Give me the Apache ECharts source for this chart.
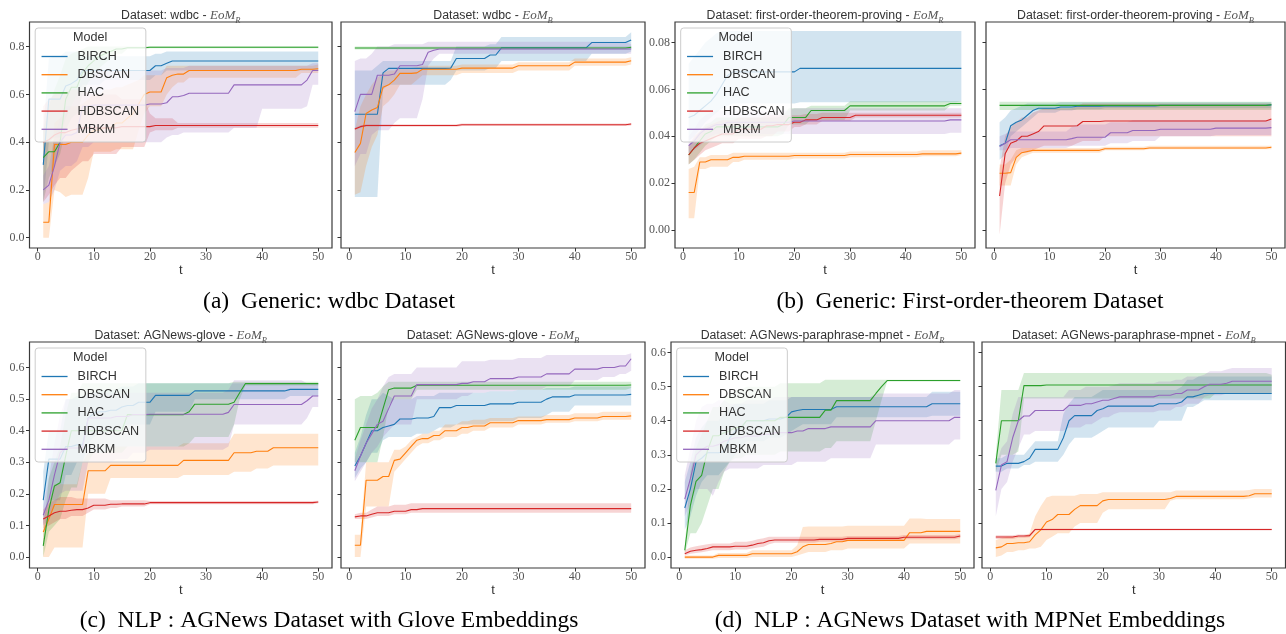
<!DOCTYPE html>
<html>
<head>
<meta charset="utf-8">
<title>EoM curves</title>
<script src="https://cdn.jsdelivr.net/npm/echarts@6/dist/echarts.min.js"></script>
<style>
  html, body { margin: 0; background: #fff; }
  #chart { width: 1286px; height: 634px; }
</style>
</head>
<body>
<div id="chart"></div>
<script>
var models = ['BIRCH', 'DBSCAN', 'HAC', 'HDBSCAN', 'MBKM'];
var steps = [1, 50];
var xTicks = [0, 10, 20, 30, 40, 50];

// keyframes: [t, mean, lower, upper]; a value holds until the next listed t
// --- wdbc, EoM_R
var wdbc_R_BIRCH = [[1,.305,.15,.45],[2,.58,.40,.75],[3,.58,.42,.76],[5,.635,.50,.78],[6,.645,.55,.78],[7,.66,.60,.78],[8,.70,.64,.76],[12,.70,.66,.76],[21,.72,.68,.77],[23,.73,.70,.78],[24,.74,.70,.78]];
var wdbc_R_DBSCAN = [[1,.065,0,.14],[2,.065,0,.15],[3,.39,.20,.48],[4,.39,.19,.50],[5,.39,.17,.52],[6,.40,.18,.55],[8,.40,.18,.56],[9,.43,.25,.58],[10,.45,.36,.60],[12,.46,.36,.62],[14,.48,.37,.63],[16,.50,.37,.64],[17,.52,.37,.65],[18,.56,.45,.66],[19,.60,.52,.68],[20,.61,.55,.68],[23,.67,.60,.72],[24,.68,.63,.72],[25,.685,.65,.72],[27,.70,.67,.72],[47,.705,.69,.72],[50,.707,.69,.725]];
var wdbc_R_HAC = [[1,.335,.15,.45],[2,.36,.25,.55],[3,.36,.30,.62],[4,.40,.35,.68],[5,.58,.45,.75],[6,.63,.50,.77],[7,.63,.52,.78],[8,.69,.60,.79],[9,.72,.65,.80],[10,.74,.68,.80],[11,.76,.71,.80],[12,.77,.73,.80],[13,.78,.75,.80],[14,.79,.77,.80],[16,.795,.79,.80],[20,.797,.793,.801]];
var wdbc_R_HDBSCAN = [[1,.40,.15,.55],[2,.41,.18,.58],[3,.43,.22,.60],[4,.44,.25,.61],[6,.45,.28,.62],[7,.455,.30,.62],[8,.46,.32,.61],[10,.46,.35,.60],[15,.465,.38,.58],[20,.465,.44,.52],[21,.47,.45,.50],[25,.47,.46,.48]];
var wdbc_R_MBKM = [[1,.20,.14,.26],[2,.22,.15,.30],[3,.30,.20,.42],[4,.40,.28,.50],[5,.43,.30,.55],[7,.44,.32,.60],[8,.55,.38,.68],[10,.555,.40,.70],[20,.56,.40,.70],[23,.565,.42,.71],[24,.59,.43,.71],[26,.595,.44,.71],[27,.605,.44,.72],[35,.64,.46,.72],[40,.64,.54,.72],[48,.66,.55,.72],[49,.70,.64,.73]];
// --- wdbc, EoM_B
var wdbc_B_BIRCH = [[1,.517,.17,.70],[5,.517,.17,.72],[6,.69,.62,.74],[7,.709,.64,.74],[18,.71,.66,.74],[19,.75,.70,.80],[25,.765,.71,.81],[27,.795,.74,.84],[43,.817,.77,.84],[50,.828,.78,.86]];
var wdbc_B_DBSCAN = [[1,.357,.18,.45],[2,.395,.19,.55],[3,.52,.30,.60],[4,.535,.38,.64],[5,.545,.43,.67],[6,.63,.55,.69],[7,.64,.57,.70],[8,.66,.60,.70],[9,.688,.64,.71],[12,.69,.66,.715],[13,.705,.68,.72],[20,.71,.69,.725],[30,.72,.70,.735],[40,.735,.72,.75],[50,.741,.725,.755]];
var wdbc_B_HAC = [[1,.794,.788,.80],[50,.797,.79,.80]];
var wdbc_B_HDBSCAN = [[1,.455,.45,.46],[2,.465,.46,.47],[3,.47,.465,.475],[20,.473,.468,.478],[50,.476,.47,.48]];
var wdbc_B_MBKM = [[1,.528,.30,.74],[2,.60,.35,.75],[4,.60,.43,.77],[5,.68,.45,.80],[8,.685,.48,.81],[9,.72,.50,.81],[13,.725,.58,.81],[14,.776,.72,.82],[15,.785,.75,.82],[16,.79,.77,.82],[50,.79,.77,.81]];
// --- first-order-theorem-proving, EoM_R
var fotp_R_BIRCH = [[1,.048,.038,.071],[2,.049,.040,.074],[3,.051,.043,.077],[4,.053,.046,.080],[5,.055,.048,.082],[6,.058,.050,.084],[7,.062,.052,.085],[8,.066,.053,.085],[9,.0675,.054,.085],[21,.069,.0545,.085],[50,.069,.055,.085]];
var fotp_R_DBSCAN = [[1,.016,.005,.026],[2,.016,.005,.027],[3,.029,.026,.031],[5,.030,.027,.032],[9,.031,.029,.033],[11,.0315,.030,.033],[20,.0318,.0305,.033],[30,.0322,.031,.0335],[43,.0325,.0315,.034],[50,.0328,.032,.034]];
var fotp_R_HAC = [[1,.032,.028,.036],[2,.035,.030,.039],[3,.038,.033,.042],[4,.041,.036,.045],[5,.042,.038,.046],[6,.044,.040,.048],[18,.045,.041,.049],[19,.048,.045,.052],[23,.051,.047,.053],[30,.053,.051,.055],[48,.054,.053,.055]];
var fotp_R_HDBSCAN = [[1,.032,.028,.036],[2,.035,.030,.040],[3,.037,.032,.042],[4,.038,.034,.044],[5,.039,.035,.045],[6,.040,.036,.046],[7,.041,.037,.047],[10,.043,.039,.048],[15,.0445,.040,.049],[17,.045,.042,.049],[20,.046,.044,.049],[22,.047,.045,.0495],[25,.048,.0465,.050],[31,.049,.048,.050]];
var fotp_R_MBKM = [[1,.036,.033,.040],[2,.038,.034,.043],[3,.041,.036,.047],[4,.043,.038,.049],[5,.044,.040,.050],[6,.045,.041,.051],[8,.046,.041,.051],[20,.0465,.041,.052],[48,.047,.0415,.052]];
// --- first-order-theorem-proving, EoM_B
var fotp_B_BIRCH = [[1,.036,.030,.046],[2,.037,.032,.048],[3,.0445,.040,.051],[4,.046,.042,.052],[5,.047,.044,.053],[6,.049,.046,.054],[7,.051,.048,.054],[8,.052,.050,.054],[12,.0525,.051,.0545],[15,.0528,.0515,.0545],[20,.053,.052,.0545],[30,.0532,.052,.0545],[50,.0534,.052,.0545]];
var fotp_B_DBSCAN = [[1,.0242,.019,.028],[3,.0245,.019,.030],[4,.031,.028,.034],[5,.033,.031,.035],[6,.0335,.032,.035],[7,.034,.033,.035],[20,.0347,.034,.0355],[28,.035,.0345,.036],[50,.0353,.0345,.036]];
var fotp_B_HAC = [[1,.0532,.0512,.0548],[50,.0535,.0512,.0548]];
var fotp_B_HDBSCAN = [[1,.0145,-.002,.026],[2,.0325,.020,.040],[3,.037,.028,.044],[4,.038,.031,.046],[5,.040,.033,.048],[7,.041,.034,.050],[8,.042,.035,.051],[9,.0444,.036,.052],[15,.0445,.037,.053],[16,.0463,.038,.054],[20,.0465,.040,.054],[50,.0474,.040,.054]];
var fotp_B_MBKM = [[1,.0356,.034,.040],[2,.037,.034,.041],[3,.0385,.035,.042],[14,.039,.036,.044],[15,.0396,.036,.045],[21,.0415,.037,.046],[25,.0425,.038,.047],[30,.043,.040,.047],[40,.0435,.0405,.047],[50,.0437,.0405,.047]];
// --- AGNews-glove, EoM_R
var glove_R_BIRCH = [[1,.18,.10,.27],[2,.31,.18,.40],[5,.35,.26,.50],[7,.355,.30,.51],[9,.44,.36,.52],[10,.455,.38,.52],[11,.46,.39,.53],[13,.465,.40,.53],[15,.475,.41,.54],[16,.48,.42,.54],[18,.49,.42,.55],[21,.512,.46,.55],[28,.526,.50,.55],[45,.531,.51,.55]];
var glove_R_DBSCAN = [[1,.079,0,.12],[2,.12,0,.17],[3,.166,.03,.23],[8,.166,.03,.30],[9,.273,.20,.33],[13,.29,.25,.35],[26,.306,.26,.36],[35,.33,.27,.39],[39,.335,.28,.39],[42,.346,.29,.39]];
var glove_R_HAC = [[1,.035,0,.07],[2,.15,.08,.25],[3,.225,.10,.30],[4,.235,.12,.35],[5,.32,.18,.45],[6,.40,.22,.52],[8,.40,.30,.55],[10,.40,.33,.55],[16,.451,.35,.55],[27,.46,.36,.55],[28,.484,.38,.55],[35,.49,.42,.555],[36,.52,.50,.555],[37,.549,.543,.555]];
var glove_R_HDBSCAN = [[1,.12,.09,.15],[2,.13,.10,.17],[3,.14,.11,.18],[4,.145,.12,.19],[6,.148,.13,.19],[7,.15,.13,.185],[9,.155,.14,.185],[10,.164,.15,.185],[13,.167,.155,.18],[15,.168,.16,.18],[20,.172,.167,.177],[50,.174,.170,.178]];
var glove_R_MBKM = [[1,.132,.10,.16],[2,.18,.12,.25],[3,.26,.16,.36],[4,.33,.20,.45],[5,.345,.21,.50],[9,.44,.30,.52],[14,.445,.31,.52],[17,.451,.33,.52],[20,.452,.34,.52],[34,.458,.35,.53],[35,.483,.42,.56],[48,.495,.44,.55],[49,.51,.475,.55]];
// --- AGNews-glove, EoM_B
var glove_B_BIRCH = [[1,.288,.25,.33],[2,.32,.28,.38],[3,.36,.30,.45],[4,.40,.33,.50],[6,.41,.37,.52],[7,.415,.38,.51],[8,.42,.38,.50],[9,.437,.38,.50],[12,.44,.39,.51],[15,.445,.40,.51],[16,.473,.41,.52],[19,.48,.42,.52],[25,.485,.43,.525],[30,.49,.44,.53],[35,.50,.45,.535],[36,.507,.46,.535],[40,.513,.48,.54],[50,.515,.48,.54]];
var glove_B_DBSCAN = [[1,.037,0,.07],[3,.243,.16,.30],[6,.255,.16,.30],[8,.306,.27,.34],[9,.31,.29,.34],[10,.33,.31,.35],[11,.35,.33,.37],[12,.37,.35,.38],[13,.375,.36,.39],[15,.385,.37,.40],[17,.40,.38,.42],[20,.41,.39,.43],[22,.415,.40,.435],[25,.425,.41,.44],[30,.432,.42,.445],[35,.435,.425,.45],[40,.44,.43,.455],[45,.445,.435,.46],[50,.447,.435,.46]];
var glove_B_HAC = [[1,.37,.30,.50],[2,.41,.30,.51],[5,.41,.30,.52],[6,.47,.38,.54],[7,.53,.48,.555],[8,.535,.50,.555],[12,.544,.53,.555],[50,.545,.535,.555]];
var glove_B_HDBSCAN = [[1,.127,.12,.135],[2,.13,.12,.14],[4,.135,.125,.15],[5,.14,.13,.16],[8,.145,.135,.165],[11,.15,.14,.17],[13,.153,.14,.17],[50,.153,.14,.17]];
var glove_B_MBKM = [[1,.273,.24,.31],[2,.32,.27,.37],[3,.36,.30,.42],[4,.39,.33,.47],[5,.42,.35,.50],[6,.43,.38,.54],[7,.47,.40,.57],[8,.51,.42,.58],[12,.546,.50,.60],[20,.55,.51,.62],[22,.555,.52,.62],[25,.565,.525,.625],[30,.57,.53,.63],[35,.58,.54,.64],[40,.595,.56,.64],[45,.60,.57,.64],[48,.605,.58,.64],[50,.628,.59,.645]];
// --- AGNews-paraphrase-mpnet, EoM_R
var mpnet_R_BIRCH = [[1,.144,.08,.22],[2,.20,.12,.28],[3,.279,.18,.35],[4,.29,.22,.38],[5,.306,.24,.40],[8,.31,.26,.42],[9,.35,.28,.44],[10,.37,.30,.45],[11,.38,.32,.45],[12,.40,.34,.45],[16,.405,.35,.46],[19,.41,.36,.46],[20,.426,.37,.47],[21,.43,.38,.47],[22,.433,.39,.47],[28,.441,.41,.47],[45,.45,.415,.485]];
var mpnet_R_DBSCAN = [[1,0,-.005,.005],[7,.005,-.003,.012],[13,.01,0,.02],[21,.0157,.005,.035],[22,.03,.01,.088],[23,.037,.015,.09],[27,.04,.02,.09],[28,.045,.02,.09],[30,.049,.025,.092],[41,.0716,.04,.113],[44,.0755,.04,.112]];
var mpnet_R_HAC = [[1,.02,.01,.03],[2,.152,.07,.25],[3,.222,.07,.32],[4,.24,.10,.36],[5,.31,.15,.40],[6,.356,.20,.44],[8,.365,.25,.46],[9,.37,.28,.48],[10,.38,.29,.49],[12,.40,.30,.50],[18,.41,.31,.51],[26,.431,.32,.52],[28,.459,.34,.52],[35,.48,.40,.52],[36,.50,.46,.52],[37,.518,.515,.52]];
var mpnet_R_HDBSCAN = [[1,.01,.005,.02],[2,.017,.01,.028],[3,.02,.012,.032],[4,.022,.014,.035],[5,.025,.017,.038],[6,.03,.02,.04],[10,.032,.022,.045],[13,.035,.025,.048],[14,.04,.028,.052],[15,.042,.03,.055],[16,.048,.038,.06],[17,.05,.042,.06],[25,.052,.045,.06],[30,.055,.048,.062],[40,.058,.052,.065],[50,.062,.056,.068]];
var mpnet_R_MBKM = [[1,.17,.12,.24],[2,.23,.16,.32],[3,.30,.20,.40],[4,.315,.20,.44],[5,.325,.20,.45],[6,.325,.18,.45],[7,.33,.22,.46],[8,.34,.25,.46],[9,.345,.26,.45],[10,.35,.26,.45],[12,.355,.26,.46],[15,.36,.27,.46],[17,.365,.27,.47],[21,.37,.28,.47],[23,.377,.28,.47],[27,.382,.29,.47],[35,.40,.33,.48],[49,.41,.345,.49]];
// --- AGNews-paraphrase-mpnet, EoM_B
var mpnet_B_BIRCH = [[1,.267,.25,.29],[3,.275,.26,.30],[6,.28,.27,.30],[7,.29,.27,.32],[8,.316,.28,.34],[13,.35,.30,.42],[14,.40,.33,.45],[15,.415,.35,.47],[19,.43,.36,.48],[20,.435,.37,.49],[21,.443,.38,.49],[30,.45,.40,.49],[34,.455,.40,.50],[35,.47,.44,.52],[37,.475,.45,.53],[38,.48,.46,.53]];
var mpnet_B_DBSCAN = [[1,.027,0,.05],[2,.03,.005,.055],[3,.04,.015,.06],[5,.042,.02,.06],[7,.045,.025,.07],[8,.065,.025,.12],[9,.08,.03,.15],[10,.103,.05,.175],[11,.11,.06,.18],[12,.125,.07,.18],[15,.14,.09,.18],[16,.151,.10,.185],[20,.165,.13,.19],[21,.169,.14,.19],[32,.172,.165,.19],[33,.178,.17,.195],[46,.18,.172,.197],[47,.186,.175,.20]];
var mpnet_B_HAC = [[1,.275,.25,.30],[2,.40,.30,.49],[5,.40,.31,.49],[6,.503,.465,.54],[10,.505,.465,.54],[40,.505,.48,.54],[50,.505,.48,.535]];
var mpnet_B_HDBSCAN = [[1,.059,.053,.064],[5,.062,.057,.066],[7,.063,.058,.067],[8,.081,.078,.084]];
var mpnet_B_MBKM = [[1,.196,.12,.27],[2,.27,.20,.32],[3,.28,.22,.34],[4,.35,.28,.42],[5,.40,.32,.47],[6,.414,.36,.47],[8,.43,.37,.47],[14,.445,.38,.49],[17,.45,.39,.50],[19,.455,.40,.50],[20,.46,.41,.50],[22,.465,.42,.505],[23,.47,.425,.51],[30,.475,.43,.515],[33,.48,.44,.52],[35,.49,.45,.53],[38,.50,.47,.535],[39,.507,.475,.545],[42,.51,.48,.55],[43,.516,.48,.555]];

var yTicksA = [0, 0.2, 0.4, 0.6, 0.8];
var yTicksB = [0, 0.02, 0.04, 0.06, 0.08];
var yTicksC = [0, 0.1, 0.2, 0.3, 0.4, 0.5, 0.6];
var yTicksD = [0, 0.1, 0.2, 0.3, 0.4, 0.5, 0.6];

var titles = ['Dataset: wdbc - ', 'Dataset: wdbc - ',
    'Dataset: first-order-theorem-proving - ', 'Dataset: first-order-theorem-proving - ',
    'Dataset: AGNews-glove - ', 'Dataset: AGNews-glove - ',
    'Dataset: AGNews-paraphrase-mpnet - ', 'Dataset: AGNews-paraphrase-mpnet - '];
var subs = ['R', 'B', 'R', 'B', 'R', 'B', 'R', 'B'];
var captions = ['(a)  Generic: wdbc Dataset', '(b)  Generic: First-order-theorem Dataset',
    '(c)  NLP : AGNews Dataset with Glove Embeddings', '(d)  NLP : AGNews Dataset with MPNet Embeddings'];

var panelData = [
    [wdbc_R_BIRCH, wdbc_R_DBSCAN, wdbc_R_HAC, wdbc_R_HDBSCAN, wdbc_R_MBKM],
    [wdbc_B_BIRCH, wdbc_B_DBSCAN, wdbc_B_HAC, wdbc_B_HDBSCAN, wdbc_B_MBKM],
    [fotp_R_BIRCH, fotp_R_DBSCAN, fotp_R_HAC, fotp_R_HDBSCAN, fotp_R_MBKM],
    [fotp_B_BIRCH, fotp_B_DBSCAN, fotp_B_HAC, fotp_B_HDBSCAN, fotp_B_MBKM],
    [glove_R_BIRCH, glove_R_DBSCAN, glove_R_HAC, glove_R_HDBSCAN, glove_R_MBKM],
    [glove_B_BIRCH, glove_B_DBSCAN, glove_B_HAC, glove_B_HDBSCAN, glove_B_MBKM],
    [mpnet_R_BIRCH, mpnet_R_DBSCAN, mpnet_R_HAC, mpnet_R_HDBSCAN, mpnet_R_MBKM],
    [mpnet_B_BIRCH, mpnet_B_DBSCAN, mpnet_B_HAC, mpnet_B_HDBSCAN, mpnet_B_MBKM]
];

// layout / style
var lineColors = ['#1f77b4', '#ff7f0e', '#2ca02c', '#d62728', '#9467bd'];
var bandColors = ['rgba(31,119,180,0.2)', 'rgba(255,127,14,0.2)', 'rgba(44,160,44,0.2)',
    'rgba(214,39,40,0.2)', 'rgba(148,103,189,0.2)'];
var grids = [
    {left: 29.5, top: 22, width: 302.5, height: 226},
    {left: 341, top: 22, width: 304, height: 226},
    {left: 675, top: 22, width: 300, height: 226},
    {left: 986, top: 22, width: 299, height: 226},
    {left: 29.5, top: 342, width: 302.5, height: 226},
    {left: 341, top: 342, width: 304, height: 226},
    {left: 671, top: 342, width: 303, height: 226},
    {left: 982, top: 342, width: 303.5, height: 226}
];
var yRanges = [[-0.043, 0.903], [-0.0077, 0.0888], [-0.035, 0.681], [-0.032, 0.631]];
var yTickSets = [yTicksA, yTicksB, yTicksC, yTicksD];
var yDecimals = [1, 2, 1, 1];

// hold each keyframe value until the next one (the curves are step-like)
function expand(keys) {
    var mean = [], band = [], k = 0;
    for (var t = steps[0]; t <= steps[1]; t++) {
        while (k + 1 < keys.length && keys[k + 1][0] <= t) k++;
        mean.push([t, keys[k][1]]);
        band.push([t, keys[k][2], keys[k][3]]);
    }
    return {mean: mean, band: band};
}

function bandSeries(band, fill, gi) {
    return {
        type: 'custom',
        name: 'band',
        xAxisIndex: gi,
        yAxisIndex: gi,
        silent: true,
        data: band,
        encode: {x: 0, y: [1, 2]},
        renderItem: function (params, api) {
            if (params.dataIndex !== 0) return null;
            var up = [], down = [];
            for (var i = 0; i < band.length; i++) {
                up.push(api.coord([band[i][0], band[i][2]]));
                down.push(api.coord([band[i][0], band[i][1]]));
            }
            return {
                type: 'polygon',
                shape: {points: up.concat(down.reverse())},
                style: {fill: fill, stroke: null}
            };
        }
    };
}

var tickFont = {fontFamily: 'Liberation Serif', fontSize: 12, color: '#555'};
var xAxes = [], yAxes = [], series = [], graphics = [], legends = [];

grids.forEach(function (g, gi) {
    var row = Math.floor(gi / 4) * 2 + Math.floor((gi % 4) / 2);
    var isLeft = gi % 2 === 0;
    xAxes.push({
        gridIndex: gi, type: 'value', min: -1.45, max: 52.45,
        name: 't', nameLocation: 'middle', nameGap: 13,
        nameTextStyle: {fontFamily: 'Liberation Sans', fontSize: 13, color: '#333'},
        splitLine: {show: false},
        axisLine: {show: false, onZero: false},
        axisTick: {show: true, length: 3.5, lineStyle: {color: '#333'}, customValues: xTicks},
        axisLabel: {customValues: xTicks, margin: 3, fontFamily: tickFont.fontFamily,
            fontSize: tickFont.fontSize, color: tickFont.color}
    });
    var dec = yDecimals[row];
    yAxes.push({
        gridIndex: gi, type: 'value', min: yRanges[row][0], max: yRanges[row][1],
        splitLine: {show: false},
        axisLine: {show: false, onZero: false},
        axisTick: {show: true, length: 3.5, lineStyle: {color: '#333'}, customValues: yTickSets[row]},
        axisLabel: {show: isLeft, customValues: yTickSets[row], margin: 5,
            formatter: function (v) { return v.toFixed(dec); },
            fontFamily: tickFont.fontFamily, fontSize: tickFont.fontSize, color: tickFont.color}
    });

    panelData[gi].forEach(function (keys, mi) {
        var d = expand(keys);
        series.push({
            type: 'line', name: models[mi], xAxisIndex: gi, yAxisIndex: gi,
            data: d.mean, symbol: 'none', color: lineColors[mi],
            lineStyle: {width: 1.1}, silent: true
        });
        series.push(bandSeries(d.band, bandColors[mi], gi));
    });

    // panel title with math-style suffix
    graphics.push({
        type: 'text', x: g.left + g.width / 2, y: g.top - 6, z: 50,
        style: {
            text: '{a|' + titles[gi] + '}{m|EoM}{s|' + subs[gi] + '}',
            align: 'center', verticalAlign: 'middle',
            rich: {
                a: {fontFamily: 'Liberation Sans', fontSize: 12.3, fill: '#333', lineHeight: 18},
                m: {fontFamily: 'Liberation Serif', fontStyle: 'italic', fontSize: 13, fill: '#555', lineHeight: 18},
                s: {fontFamily: 'Liberation Serif', fontStyle: 'italic', fontSize: 8.5, fill: '#555',
                    lineHeight: 10, verticalAlign: 'bottom'}
            }
        }
    });

    if (isLeft) {
        var lx = g.left + 5.7, ly = g.top + 6;
        legends.push({
            left: lx, top: ly, orient: 'vertical', data: models,
            itemWidth: 26, itemHeight: 10, itemGap: 4.2,
            padding: [21.5, 6.7, 5.7, 5.7],
            itemStyle: {opacity: 0},
            lineStyle: {width: 1.3},
            backgroundColor: 'rgba(255,255,255,0.8)', borderColor: '#cccccc',
            borderWidth: 1, borderRadius: 3, selectedMode: false, z: 10,
            textStyle: {fontFamily: 'Liberation Sans', fontSize: 12.6, color: '#333',
                lineHeight: 14, padding: [0, 0, 0, 5]}
        });
        graphics.push({
            type: 'text', x: lx + 55, y: ly + 10, z: 100,
            style: {text: 'Model', align: 'center', verticalAlign: 'middle',
                font: '12.6px "Liberation Sans"', fill: '#333'}
        });
    }
});

var capCenters = [[329, 302], [970, 302], [329, 621], [970, 621]];
captions.forEach(function (c, i) {
    graphics.push({
        type: 'text', x: capCenters[i][0], y: capCenters[i][1], z: 50,
        style: {text: c, align: 'center', verticalAlign: 'middle',
            font: '23.5px "Liberation Serif"', fill: '#000'}
    });
});

var chart = echarts.init(document.getElementById('chart'));
chart.setOption({
    animation: false,
    backgroundColor: '#fff',
    grid: grids.map(function (g) {
        return {left: g.left, top: g.top, width: g.width, height: g.height,
            show: true, borderColor: '#3a3a3a', borderWidth: 1.2, backgroundColor: 'transparent'};
    }),
    xAxis: xAxes,
    yAxis: yAxes,
    legend: legends,
    graphic: graphics,
    series: series
});
</script>
</body>
</html>
